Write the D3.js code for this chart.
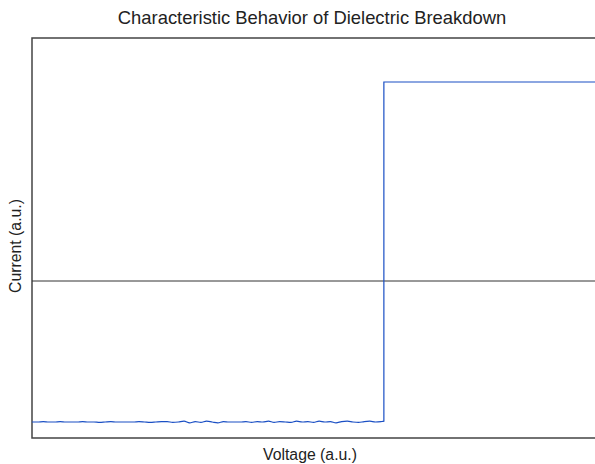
<!DOCTYPE html>
<html>
<head>
<meta charset="utf-8">
<script src="https://cdn.jsdelivr.net/npm/d3@7"></script>
<style>
  body { margin: 0; background: #fff; }
  text { font-family: "Liberation Sans", Arial, sans-serif; fill: #222; }
</style>
</head>
<body>
<svg id="chart"></svg>
<script>
// voltage (a.u.) sample points
var voltage = [0,1,2,3,4,5,6,7,8,9,10,11,12,13,14,15,16,17,18,19,20,21,22,23,24,25,26,27,28,29,
  30,31,32,33,34,35,36,37,38,39,40,41,42,43,44,45,46,47,48,49,50,51,52,53,54,55,56,57,58,59,60,61,62,62.5,62.5,100];
// current (a.u.)
var current = [0.040,0.040,0.041,0.040,0.040,0.041,0.040,0.040,0.040,0.041,0.040,0.040,0.039,0.040,0.041,
  0.040,0.040,0.040,0.040,0.041,0.040,0.039,0.040,0.041,0.041,0.039,0.040,0.042,0.038,0.041,
  0.039,0.042,0.040,0.038,0.041,0.040,0.040,0.040,0.041,0.039,0.041,0.040,0.042,0.039,0.041,
  0.040,0.039,0.042,0.040,0.041,0.039,0.042,0.040,0.041,0.038,0.041,0.042,0.040,0.039,0.041,
  0.042,0.040,0.041,0.042,0.89,0.89];
var refLevel = 0.3925;

var svgWidth = 595, svgHeight = 464;
var margin = { top: 38, right: 0, bottom: 26, left: 32 };
var width = svgWidth - margin.left - margin.right;
var height = svgHeight - margin.top - margin.bottom;

var svg = d3.select('#chart')
    .attr("width", svgWidth)
    .attr("height", svgHeight);

var g = svg.append("g")
    .attr("transform", "translate(" + margin.left + "," + margin.top + ")");

var x = d3.scaleLinear().domain([0, 100]).range([0, width]);
var y = d3.scaleLinear().domain([0, 1]).range([height, 0]);

var data = voltage.map(function(v, i) { return { v: v, c: current[i] }; });

// frame
g.append("path")
    .attr("d", "M" + (width + 2) + ",0H0V" + height + "H" + (width + 2))
    .attr("fill", "none")
    .attr("stroke", "#444")
    .attr("stroke-width", 1.5);

// reference line
g.append("line")
    .attr("x1", 0).attr("x2", width)
    .attr("y1", y(refLevel)).attr("y2", y(refLevel))
    .attr("stroke", "#333")
    .attr("stroke-width", 1);

var line = d3.line()
    .x(function(d) { return x(d.v); })
    .y(function(d) { return y(d.c); })
    .curve(d3.curveMonotoneX);

g.append("path")
    .datum(data)
    .attr("fill", "none")
    .attr("stroke", "#1a4fc4")
    .attr("stroke-width", 1.2)
    .attr("d", line);

svg.append("text")
    .attr("x", 312).attr("y", 24)
    .attr("text-anchor", "middle")
    .style("font-size", "18.4px")
    .text("Characteristic Behavior of Dielectric Breakdown");

svg.append("text")
    .attr("x", 310).attr("y", 460)
    .attr("text-anchor", "middle")
    .style("font-size", "15.8px")
    .text("Voltage (a.u.)");

svg.append("text")
    .attr("transform", "translate(21,246) rotate(-90)")
    .attr("text-anchor", "middle")
    .style("font-size", "15.8px")
    .text("Current (a.u.)");
</script>
</body>
</html>
